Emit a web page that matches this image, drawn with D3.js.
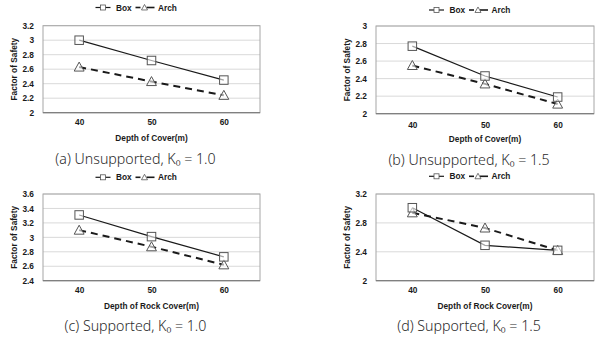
<!DOCTYPE html>
<html><head><meta charset="utf-8">
<script src="https://cdn.jsdelivr.net/npm/d3@7"></script>
<style>
body{margin:0;background:#fff;}
svg{display:block;}
</style></head>
<body>
<svg id="chart" width="604" height="338"></svg>
<script>
const categories = ["40", "50", "60"];
const seriesNames = ["Box", "Arch"];
const boxA = [3.00, 2.72, 2.45];
const archA = [2.63, 2.43, 2.24];
const boxB = [2.77, 2.43, 2.19];
const archB = [2.55, 2.34, 2.11];
const boxC = [3.31, 3.01, 2.73];
const archC = [3.10, 2.87, 2.62];
const boxD = [3.01, 2.49, 2.42];
const archD = [2.94, 2.73, 2.42];
const ticksA = [2, 2.2, 2.4, 2.6, 2.8, 3, 3.2];
const ticksB = [2, 2.2, 2.4, 2.6, 2.8, 3];
const ticksC = [2.4, 2.6, 2.8, 3, 3.2, 3.4, 3.6];
const ticksD = [2, 2.4, 2.8, 3.2];
const xTitles = ["Depth of Cover(m)", "Depth of Cover(m)", "Depth of Rock Cover(m)", "Depth of Rock Cover(m)"];
const captions = ["(a) Unsupported, K\u2080 = 1.0", "(b) Unsupported, K\u2080 = 1.5", "(c) Supported, K\u2080 = 1.0", "(d) Supported, K\u2080 = 1.5"];

const panels = [
  {ox:0, oy:0, l:43, r:260, t:25.7, b:112.7, box:boxA, arch:archA, ticks:ticksA, legY:7.5, xl:127.5, xt:140.5, cap:164},
  {ox:302, oy:0, l:74, r:292, t:26, b:113.7, box:boxB, arch:archB, ticks:ticksB, legY:10, xl:130, xt:142, cap:164.5},
  {ox:0, oy:169, l:43, r:260, t:25, b:111.7, box:boxC, arch:archC, ticks:ticksC, legY:8.3, xl:126.5, xt:140, cap:162},
  {ox:302, oy:169, l:74, r:292, t:25, b:111.7, box:boxD, arch:archD, ticks:ticksD, legY:7.3, xl:126, xt:140, cap:162}
];

const svg = d3.select("#chart");
const font = "'Liberation Sans', Arial, sans-serif";
const fs = 8.3;
const sq = 8.5, triS = 9;
const triPath = (s) => `M0,${-s*0.55}L${s*0.55},${s*0.45}L${-s*0.55},${s*0.45}Z`;

panels.forEach((p, i) => {
  const g = svg.append("g").attr("transform", `translate(${p.ox},${p.oy})`);
  const x = d3.scalePoint().domain(categories).range([p.l, p.r]).padding(0.5);
  const y = d3.scaleLinear().domain([p.ticks[0], p.ticks[p.ticks.length-1]]).range([p.b, p.t]);

  // gridlines
  g.append("g").selectAll("line").data(p.ticks).join("line")
    .attr("x1", p.l).attr("x2", p.r)
    .attr("y1", d => y(d)).attr("y2", d => y(d))
    .attr("stroke", "#d9d9d9").attr("stroke-width", 1);
  // frame
  g.append("rect").attr("x", p.l).attr("y", p.t).attr("width", p.r - p.l).attr("height", p.b - p.t)
    .attr("fill", "none").attr("stroke", "#a6a6a6").attr("stroke-width", 1);
  g.append("line").attr("x1", p.l).attr("x2", p.r).attr("y1", p.b).attr("y2", p.b)
    .attr("stroke", "#808080").attr("stroke-width", 1.2);

  // y axis labels
  const ya = d3.axisLeft(y).tickValues(p.ticks).tickSize(0).tickPadding(9).tickFormat(d3.format("~g"));
  const yg = g.append("g").attr("transform", `translate(${p.l},0)`).call(ya);
  yg.select(".domain").remove();
  yg.selectAll("text").attr("font-family", font).attr("font-weight", "bold").attr("font-size", fs).attr("fill", "#1a1a1a");

  // x axis labels
  const xa = d3.axisBottom(x).tickSize(0).tickPadding(0);
  const xg = g.append("g").attr("transform", `translate(0,${p.xl - 8})`).call(xa);
  xg.select(".domain").remove();
  xg.selectAll("text").attr("font-family", font).attr("font-weight", "bold").attr("font-size", fs).attr("fill", "#1a1a1a");

  // axis titles
  g.append("text").attr("x", (p.l + p.r)/2).attr("y", p.xt).attr("text-anchor", "middle")
    .attr("font-family", font).attr("font-weight", "bold").attr("font-size", fs).attr("fill", "#1a1a1a")
    .text(xTitles[i]);
  g.append("text").attr("transform", `translate(${p.l - 26},${(p.t + p.b)/2}) rotate(-90)`)
    .attr("text-anchor", "middle")
    .attr("font-family", font).attr("font-weight", "bold").attr("font-size", fs).attr("fill", "#1a1a1a")
    .text("Factor of Safety");

  // lines
  const line = d3.line().x((d, j) => x(categories[j])).y(d => y(d));
  g.append("path").datum(p.arch).attr("d", line).attr("fill", "none")
    .attr("stroke", "#1a1a1a").attr("stroke-width", 2).attr("stroke-dasharray", "7,5");
  g.append("path").datum(p.box).attr("d", line).attr("fill", "none")
    .attr("stroke", "#1a1a1a").attr("stroke-width", 1.2);

  // markers
  g.append("g").selectAll("path").data(p.arch).join("path")
    .attr("transform", (d, j) => `translate(${x(categories[j])},${y(d)})`)
    .attr("d", triPath(triS)).attr("fill", "#fff").attr("fill-opacity", 0.6)
    .attr("stroke", "#555").attr("stroke-width", 1);
  g.append("g").selectAll("rect").data(p.box).join("rect")
    .attr("x", (d, j) => x(categories[j]) - sq/2).attr("y", d => y(d) - sq/2)
    .attr("width", sq).attr("height", sq).attr("fill", "#fff").attr("fill-opacity", 0.6)
    .attr("stroke", "#555").attr("stroke-width", 1);

  // legend
  const lc = (p.l + p.r)/2 - 16;
  const lg = g.append("g").attr("transform", `translate(${lc - 40},${p.legY})`);
  // Box item
  lg.append("line").attr("x1", 0).attr("x2", 15).attr("y1", 0).attr("y2", 0).attr("stroke", "#1a1a1a").attr("stroke-width", 1.2);
  lg.append("rect").attr("x", 5).attr("y", -2.5).attr("width", 5).attr("height", 5).attr("fill", "#fff").attr("stroke", "#555").attr("stroke-width", 0.8);
  lg.append("text").attr("x", 20.5).attr("y", 3).attr("font-family", font).attr("font-weight", "bold").attr("font-size", fs).attr("fill", "#1a1a1a").text(seriesNames[0]);
  // Arch item
  lg.append("line").attr("x1", 40).attr("x2", 45).attr("y1", 0).attr("y2", 0).attr("stroke", "#1a1a1a").attr("stroke-width", 1.6);
  lg.append("line").attr("x1", 51).attr("x2", 59).attr("y1", 0).attr("y2", 0).attr("stroke", "#1a1a1a").attr("stroke-width", 1.6);
  lg.append("path").attr("transform", "translate(49,0)").attr("d", triPath(5.5)).attr("fill", "#fff").attr("stroke", "#555").attr("stroke-width", 0.8);
  lg.append("text").attr("x", 62.5).attr("y", 3).attr("font-family", font).attr("font-weight", "bold").attr("font-size", fs).attr("fill", "#1a1a1a").text(seriesNames[1]);

  // caption
  g.append("text").attr("x", lc).attr("y", p.cap).attr("text-anchor", "middle")
    .attr("font-family", "'Noto Sans', 'Open Sans', sans-serif").attr("font-weight", 300).attr("font-size", 14.2).attr("fill", "#2a2a2a")
    .text(captions[i]);
});
</script>
</body></html>
